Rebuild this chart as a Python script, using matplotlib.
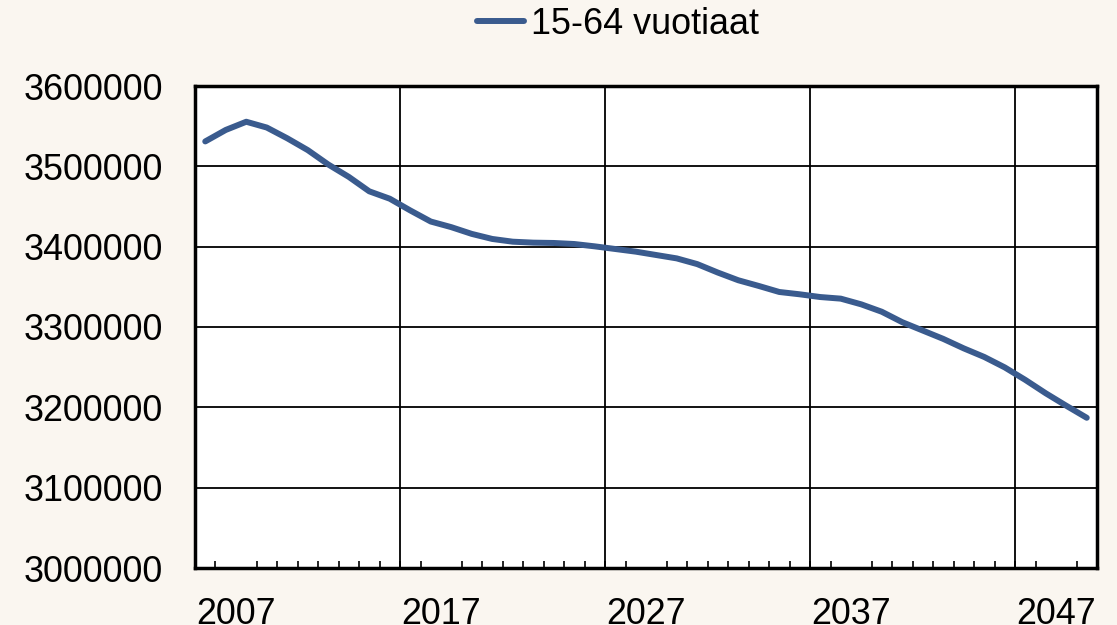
import matplotlib
matplotlib.use("Agg")
import matplotlib.pyplot as plt
from matplotlib.ticker import FixedLocator

years = list(range(2006, 2050))
values = [3531000, 3545300, 3555500, 3548300, 3534900, 3520200, 3502300, 3486900,
          3468900, 3459700, 3445100, 3431300, 3424300, 3415900, 3409600, 3406200,
          3405000, 3404600, 3403300, 3400400, 3397100, 3393800, 3389600, 3385400,
          3378300, 3367800, 3358200, 3351100, 3343600, 3340700, 3337300, 3335300,
          3328200, 3319000, 3306000, 3295600, 3285200, 3273400, 3262700, 3249700,
          3234200, 3217500, 3202000, 3187000]
series_name = "15-64 vuotiaat"
x_labels = ["2007", "2017", "2027", "2037", "2047"]
y_ticks = [3000000, 3100000, 3200000, 3300000, 3400000, 3500000, 3600000]

bg = "#faf6f0"
line_color = "#3a5b8e"
plt.rcParams['font.family'] = ['Liberation Sans', 'DejaVu Sans']
fs = 25.8

fig = plt.figure(figsize=(11.17, 6.25), dpi=100, facecolor=bg)
ax = fig.add_axes([195/1117, 1 - 568/625, (1097-195)/1117, (568-86)/625])
ax.set_facecolor("white")

idx = list(range(len(years)))
ax.plot(idx, values, color=line_color, lw=4.3, solid_capstyle='round',
        solid_joinstyle='round', label=series_name, zorder=3)

ax.set_xlim(-0.5, len(years) - 0.5)
ax.set_ylim(3000000, 3600000)
ax.set_yticks(y_ticks)
ax.set_yticklabels([str(v) for v in y_ticks])

label_pos = [years.index(int(l)) + 0.5 for l in x_labels]
ax.xaxis.set_major_locator(FixedLocator(label_pos))
ax.set_xticklabels(x_labels)
ax.xaxis.set_minor_locator(FixedLocator([i - 0.5 for i in range(1, len(years))]))

ax.tick_params(axis='x', which='major', length=0, pad=21, labelsize=fs)
ax.tick_params(axis='x', which='minor', direction='in', length=5, width=1.2, color='black')
ax.tick_params(axis='y', which='major', length=0, pad=23, labelsize=fs)

for g in [9.5, 19.5, 29.5, 39.5]:
    ax.axvline(g, color='black', lw=1.3, zorder=1)
ax.yaxis.grid(True, color='black', lw=1.3, zorder=1)
ax.set_axisbelow(True)

for s in ax.spines.values():
    s.set_linewidth(2.5)
    s.set_color('black')

fig.legend(loc='center', bbox_to_anchor=(618/1117, 1 - 24/625), frameon=False,
           fontsize=fs, handlelength=1.3, handletextpad=0.2)

fig.savefig("out.png", dpi=100, facecolor=bg)
